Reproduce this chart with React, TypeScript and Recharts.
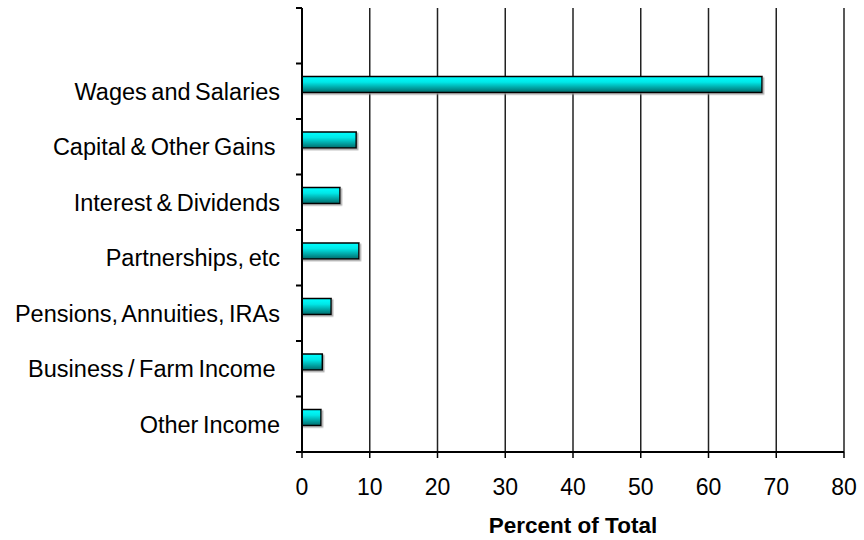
import React from 'react';
import { BarChart, Bar, XAxis, YAxis, CartesianGrid } from 'recharts';

const categories = [
  'Wages and Salaries',
  'Capital & Other Gains ',
  'Interest & Dividends',
  'Partnerships, etc',
  'Pensions, Annuities, IRAs',
  'Business / Farm Income ',
  'Other Income',
];
const percents = [67.9, 8.0, 5.6, 8.4, 4.3, 3.0, 2.8];
const xTicks = [0, 10, 20, 30, 40, 50, 60, 70, 80];

// Excel-style chart: one empty row on top, second (empty) series slot under each bar
const rows = [
  { name: '', value: null as number | null, spare: null as number | null },
  ...categories.map((name, i) => ({ name, value: percents[i], spare: null as number | null })),
];

const W = 864;
const H = 540;
const AXIS_W = 302;
const PLOT_TOP = 8;
const PLOT_BOTTOM = 452;
const HALF_BAND = (PLOT_BOTTOM - PLOT_TOP) / rows.length / 2;
const FONT = '"Liberation Sans", Arial, sans-serif';

const YTick = (props: any) => {
  const { x, y, payload, index } = props;
  const last = index === rows.length - 1;
  return (
    <g>
      <line x1={AXIS_W - 6} x2={AXIS_W} y1={y - HALF_BAND} y2={y - HALF_BAND} stroke="#000" strokeWidth={2} />
      {last && (
        <line x1={AXIS_W - 6} x2={AXIS_W} y1={y + HALF_BAND} y2={y + HALF_BAND} stroke="#000" strokeWidth={2} />
      )}
      <text
        x={x}
        y={y}
        dy="0.36em"
        textAnchor="end"
        fill="#000"
        fontSize={23.5}
        fontFamily={FONT}
        style={{ whiteSpace: 'pre', wordSpacing: '-2px' }}
      >
        {payload.value}
      </text>
    </g>
  );
};

export default function App() {
  return (
    <div style={{ position: 'absolute', left: 0, top: 0, width: W, height: H, background: '#fff' }}>
      <BarChart
        width={W}
        height={H}
        data={rows}
        layout="vertical"
        margin={{ top: PLOT_TOP, right: 20, bottom: 0, left: 0 }}
        barGap={-3}
        barSize={16}
      >
        <defs>
          <linearGradient id="barFill" x1="0" y1="0" x2="0" y2="1">
            <stop offset="0%" stopColor="#00ffff" />
            <stop offset="35%" stopColor="#00e8e8" />
            <stop offset="100%" stopColor="#006a6a" />
          </linearGradient>
          <filter id="barShadow" x="-5%" y="-20%" width="120%" height="160%">
            <feDropShadow dx="1.5" dy="1.5" stdDeviation="0.6" floodColor="#999" floodOpacity="0.8" />
          </filter>
        </defs>
        <CartesianGrid horizontal={false} stroke="#222" strokeWidth={1.5} />
        <XAxis
          type="number"
          domain={[0, 80]}
          ticks={xTicks}
          height={88}
          axisLine={{ stroke: '#000', strokeWidth: 2 }}
          tickLine={{ stroke: '#000', strokeWidth: 1.5 }}
          tickSize={6}
          tickMargin={21}
          tick={{ fill: '#000', fontSize: 23, fontFamily: FONT }}
          label={{
            value: 'Percent of Total',
            position: 'insideBottom',
            offset: 7,
            fill: '#000',
            fontSize: 22.5,
            fontWeight: 'bold',
            fontFamily: FONT,
          }}
        />
        <YAxis
          type="category"
          dataKey="name"
          width={AXIS_W}
          axisLine={{ stroke: '#000', strokeWidth: 2 }}
          tickLine={false}
          tickSize={6}
          tickMargin={16}
          interval={0}
          tick={<YTick />}
        />
        <Bar
          dataKey="value"
          fill="url(#barFill)"
          stroke="#000"
          strokeWidth={1.5}
          filter="url(#barShadow)"
          isAnimationActive={false}
        />
        <Bar dataKey="spare" fill="none" isAnimationActive={false} />
      </BarChart>
    </div>
  );
}
